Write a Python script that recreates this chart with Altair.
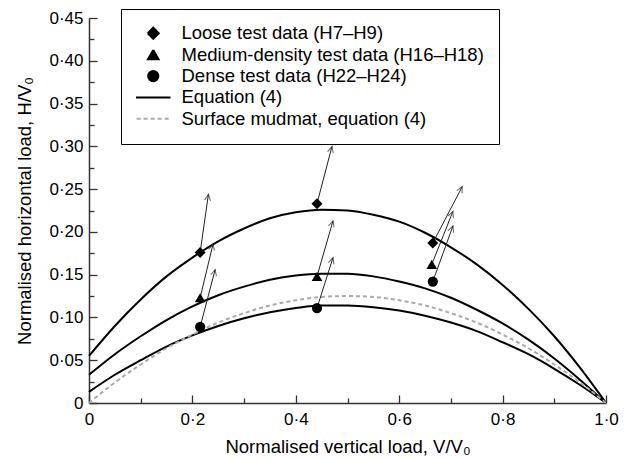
import math
import altair as alt
import pandas as pd

# ---------------- data ----------------
SERIES = [
    "Loose test data (H7–H9)",
    "Medium-density test data (H16–H18)",
    "Dense test data (H22–H24)",
    "Equation (4)",
    "Surface mudmat, equation (4)",
]

V_grid = [0.00, 0.05, 0.10, 0.15, 0.20, 0.25, 0.30, 0.35, 0.40, 0.45, 0.50,
          0.55, 0.60, 0.65, 0.70, 0.75, 0.80, 0.85, 0.90, 0.95, 1.00]
eq_loose = [0.055, 0.090, 0.121, 0.148, 0.170, 0.189, 0.204, 0.216, 0.223, 0.226, 0.225,
            0.220, 0.212, 0.199, 0.182, 0.162, 0.138, 0.110, 0.078, 0.041, 0.000]
eq_medium = [0.033, 0.057, 0.078, 0.097, 0.113, 0.126, 0.136, 0.144, 0.149, 0.151, 0.151,
             0.148, 0.142, 0.134, 0.123, 0.109, 0.093, 0.074, 0.052, 0.027, 0.000]
eq_dense = [0.013, 0.033, 0.050, 0.066, 0.079, 0.090, 0.099, 0.106, 0.111, 0.114, 0.114,
            0.112, 0.108, 0.102, 0.094, 0.084, 0.071, 0.057, 0.040, 0.021, 0.000]
eq_mudmat = [0.000, 0.024, 0.045, 0.064, 0.080, 0.094, 0.105, 0.114, 0.120, 0.124, 0.125,
             0.124, 0.120, 0.114, 0.105, 0.094, 0.080, 0.064, 0.045, 0.024, 0.000]

loose_V = [0.215, 0.441, 0.665]
loose_H = [0.176, 0.233, 0.187]
medium_V = [0.215, 0.441, 0.663]
medium_H = [0.123, 0.148, 0.162]
dense_V = [0.215, 0.441, 0.665]
dense_H = [0.089, 0.111, 0.142]

# arrow tips (load path direction)
loose_tip_V = [0.231, 0.470, 0.722]
loose_tip_H = [0.244, 0.300, 0.253]
medium_tip_V = [0.240, 0.472, 0.704]
medium_tip_H = [0.186, 0.213, 0.224]
dense_tip_V = [0.244, 0.472, 0.704]
dense_tip_H = [0.156, 0.170, 0.207]

x_major = [0, 0.2, 0.4, 0.6, 0.8, 1.0]
x_minor = [0.1, 0.3, 0.5, 0.7, 0.9]
y_major = [0, 0.05, 0.10, 0.15, 0.20, 0.25, 0.30, 0.35, 0.40, 0.45]
y_minor = [0.025, 0.075, 0.125, 0.175, 0.225, 0.275, 0.325, 0.375, 0.425]

# ---------------- tables ----------------
W, H = 517, 385
XMAX, YMAX = 1.0, 0.45

curve_rows = []
for name, cid, vals in [(SERIES[3], "loose", eq_loose), (SERIES[3], "medium", eq_medium),
                        (SERIES[3], "dense", eq_dense), (SERIES[4], "mudmat", eq_mudmat)]:
    for v, h in zip(V_grid, vals):
        curve_rows.append({"V": v, "H": h, "series": name, "curve": cid})
curves = pd.DataFrame(curve_rows)

pt_rows, arr_rows = [], []
for name, vs, hs, tv, th in [
    (SERIES[0], loose_V, loose_H, loose_tip_V, loose_tip_H),
    (SERIES[1], medium_V, medium_H, medium_tip_V, medium_tip_H),
    (SERIES[2], dense_V, dense_H, dense_tip_V, dense_tip_H),
]:
    for v, h, v2, h2 in zip(vs, hs, tv, th):
        pt_rows.append({"V": v, "H": h, "series": name})
        dx = (v2 - v) / XMAX * W
        dy = (h2 - h) / YMAX * H
        ang = math.degrees(math.atan2(dx, dy)) % 360
        arr_rows.append({"V": v, "H": h, "V2": v2, "H2": h2, "angle": ang})
points = pd.DataFrame(pt_rows)
arrows = pd.DataFrame(arr_rows)

FONT = "Liberation Sans"
xscale = alt.Scale(domain=[0, 1], nice=False)
yscale = alt.Scale(domain=[0, 0.45], nice=False)

xlab = "datum.value == 0 ? '0' : replace(format(datum.value, '.1f'), '.', '·')"
ylab = "datum.value == 0 ? '0' : replace(format(datum.value, '.2f'), '.', '·')"

x_axis_lab = alt.Axis(orient="bottom", values=x_major, labelExpr=xlab, ticks=False,
                      domain=True, labelPadding=8, labelFlush=False, grid=False,
                      title="Normalised vertical load, V/V₀", titlePadding=10)
y_axis_lab = alt.Axis(orient="left", values=y_major, labelExpr=ylab, ticks=False,
                      domain=True, labelPadding=6, grid=False,
                      title="Normalised horizontal load, H/V₀", titlePadding=14)
x_axis_maj = alt.Axis(orient="bottom", values=x_major, offset=-8, tickSize=8, labels=False,
                      domain=False, grid=False, title="")
y_axis_maj = alt.Axis(orient="left", values=y_major, offset=-8, tickSize=8, labels=False,
                      domain=False, grid=False, title="")
x_axis_min = alt.Axis(orient="bottom", values=x_minor, offset=-5, tickSize=5, labels=False,
                      domain=False, grid=False, title="")
y_axis_min = alt.Axis(orient="left", values=y_minor, offset=-5, tickSize=5, labels=False,
                      domain=False, grid=False, title="")

LINE_SYMBOL = "M-3.5,0L3.5,0"
color_scale = alt.Scale(domain=SERIES, range=["black", "black", "black", "black", "#aaaaaa"])
shape_scale = alt.Scale(domain=SERIES, range=["diamond", "triangle-up", "circle", LINE_SYMBOL, LINE_SYMBOL])
size_scale = alt.Scale(domain=SERIES, range=[120, 90, 75, 110, 110])
dash_scale = alt.Scale(domain=SERIES, range=[[1000, 1], [1000, 1], [1000, 1], [1000, 1], [4, 3]])
leg = alt.Legend(title=None)

lines = alt.Chart(curves).mark_line(strokeWidth=2, interpolate="monotone").encode(
    x=alt.X("V:Q", scale=xscale, axis=x_axis_lab),
    y=alt.Y("H:Q", scale=yscale, axis=y_axis_lab),
    color=alt.Color("series:N", scale=color_scale, legend=leg),
    strokeDash=alt.StrokeDash("series:N", scale=dash_scale, legend=leg),
    detail="curve:N",
)

rules = alt.Chart(arrows).mark_rule(strokeWidth=1, color="#222").encode(
    x=alt.X("V:Q", scale=xscale, axis=x_axis_maj),
    y=alt.Y("H:Q", scale=yscale, axis=y_axis_maj),
    x2="V2:Q",
    y2="H2:Q",
)

heads = alt.Chart(arrows).mark_point(
    shape="M-0.45,0.95L0,0L0.45,0.95", filled=False, size=170, strokeWidth=1, color="#222"
).encode(
    x=alt.X("V2:Q", scale=xscale, axis=x_axis_min),
    y=alt.Y("H2:Q", scale=yscale, axis=y_axis_min),
    angle=alt.Angle("angle:Q", scale=None),
)

pts = alt.Chart(points).mark_point(filled=True, opacity=1).encode(
    x=alt.X("V:Q", scale=xscale, axis=None),
    y=alt.Y("H:Q", scale=yscale, axis=None),
    shape=alt.Shape("series:N", scale=shape_scale, legend=leg),
    color=alt.Color("series:N", scale=color_scale, legend=leg),
    size=alt.Size("series:N", scale=size_scale, legend=leg),
)

chart = alt.layer(lines, rules, heads, pts).resolve_axis(
    x="independent", y="independent"
).properties(
    width=W, height=H,
    autosize=alt.AutoSizeParams(type="none"),
    padding={"left": 89, "top": 18, "right": 32, "bottom": 56},
    background="white",
).configure_view(stroke=None).configure_axis(
    labelFont=FONT, labelFontSize=17, labelColor="black",
    titleFont=FONT, titleFontSize=18.5, titleFontWeight="normal", titleColor="black",
    domainColor="#333", domainWidth=1.5, tickColor="#333", tickWidth=1.3,
).configure_legend(
    orient="none", legendX=32, legendY=-9,
    labelFont=FONT, labelFontSize=18.5, labelColor="black", labelLimit=400,
    strokeColor="black", fillColor="white", padding=15, symbolSize=110,
    rowPadding=2.4, labelOffset=19, symbolStrokeWidth=2, symbolOffset=8,
)

chart.save("out.html", embed_options={"renderer": "svg", "actions": False})
